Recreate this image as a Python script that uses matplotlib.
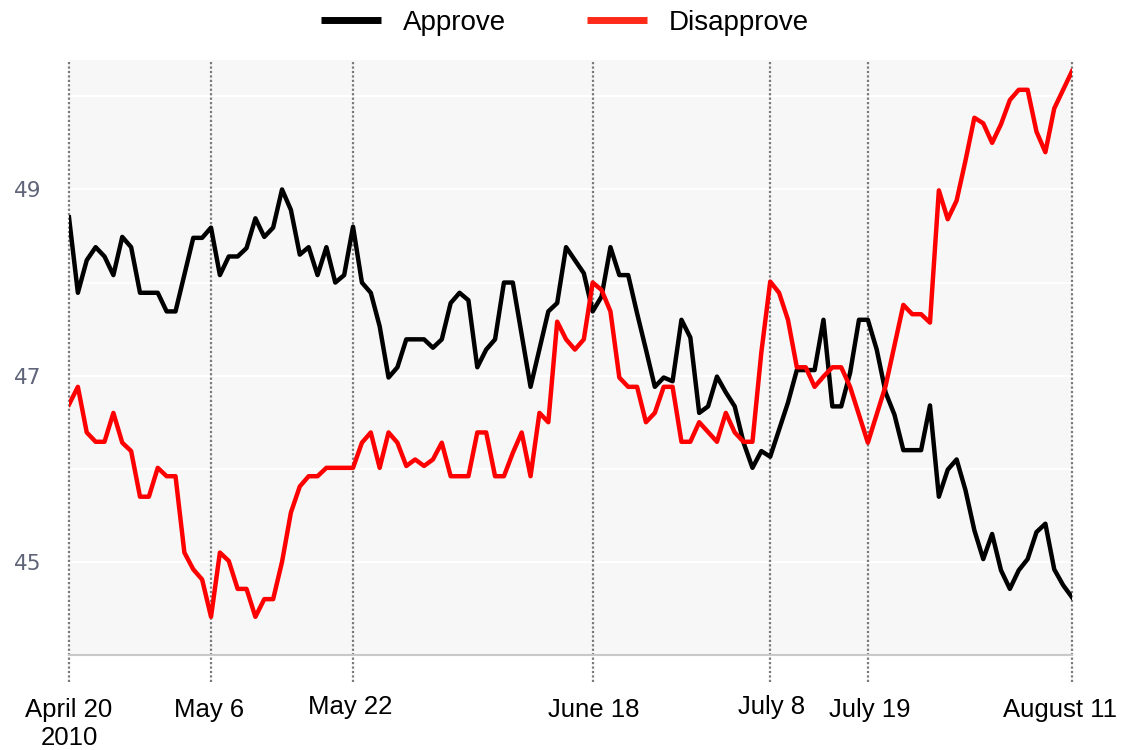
import matplotlib
matplotlib.use('Agg')
import matplotlib.pyplot as plt
from matplotlib.lines import Line2D
import pandas as pd

plt.rcParams['font.family'] = ['Liberation Sans', 'DejaVu Sans']

start = pd.Timestamp('2010-04-20')

# days after April 20 2010
approve_days = [0, 1, 2, 3, 4, 5, 6, 7, 8, 10, 11, 12, 14, 15, 16, 17, 18, 19, 20, 21,
                22, 23, 24, 25, 26, 27, 28, 29, 30, 31, 32, 33, 34, 35, 36, 37, 38, 40, 41, 42,
                43, 44, 45, 46, 47, 48, 49, 50, 52, 54, 55, 56, 58, 59, 60, 61, 62, 63, 64, 65,
                66, 67, 68, 69, 70, 71, 72, 73, 74, 75, 76, 77, 78, 79, 80, 81, 82, 84, 85, 86,
                87, 88, 89, 90, 91, 92, 93, 94, 96, 97, 98, 99, 100, 101, 102, 103, 104, 105, 106, 107,
                108, 109, 110, 111, 112, 113]
approve = [48.70, 47.89, 48.24, 48.38, 48.28, 48.08, 48.49, 48.38, 47.89, 47.89, 47.69, 47.69, 48.48, 48.48, 48.59, 48.08, 48.28, 48.28, 48.37, 48.69,
           48.49, 48.59, 49.00, 48.78, 48.30, 48.38, 48.08, 48.38, 48.00, 48.08, 48.60, 48.00, 47.89, 47.53, 46.98, 47.09, 47.39, 47.39, 47.30, 47.39,
           47.78, 47.89, 47.81, 47.09, 47.28, 47.39, 48.00, 48.00, 46.88, 47.69, 47.78, 48.38, 48.10, 47.69, 47.85, 48.38, 48.08, 48.08, 47.67, 47.28,
           46.88, 46.98, 46.94, 47.60, 47.41, 46.60, 46.67, 46.99, 46.82, 46.67, 46.28, 46.01, 46.19, 46.13, 46.42, 46.71, 47.06, 47.06, 47.60, 46.67,
           46.67, 47.03, 47.60, 47.60, 47.28, 46.82, 46.58, 46.20, 46.20, 46.68, 45.70, 45.99, 46.10, 45.77, 45.34, 45.03, 45.30, 44.91, 44.71, 44.91,
           45.03, 45.32, 45.41, 44.92, 44.75, 44.62]

disapprove_days = [0, 1, 2, 3, 4, 5, 6, 7, 8, 9, 10, 11, 12, 13, 14, 15, 16, 17, 18, 19,
                   20, 21, 22, 23, 24, 25, 26, 27, 28, 29, 32, 33, 34, 35, 36, 37, 38, 39, 40, 41,
                   42, 43, 45, 46, 47, 48, 49, 50, 51, 52, 53, 54, 55, 56, 57, 58, 59, 60, 61, 62,
                   63, 64, 65, 66, 67, 68, 69, 70, 71, 73, 74, 75, 76, 77, 78, 79, 80, 81, 82, 83,
                   84, 85, 86, 87, 88, 89, 90, 92, 94, 95, 96, 97, 98, 99, 100, 101, 102, 103, 104, 105,
                   106, 107, 108, 109, 110, 111, 112, 113]
disapprove = [46.69, 46.88, 46.39, 46.29, 46.29, 46.60, 46.28, 46.19, 45.70, 45.70, 46.01, 45.92, 45.92, 45.10, 44.92, 44.81, 44.41, 45.10, 45.01, 44.71,
              44.71, 44.41, 44.60, 44.60, 45.00, 45.53, 45.81, 45.92, 45.92, 46.01, 46.01, 46.28, 46.39, 46.01, 46.39, 46.28, 46.03, 46.10, 46.03, 46.10,
              46.28, 45.92, 45.92, 46.39, 46.39, 45.92, 45.92, 46.17, 46.39, 45.92, 46.60, 46.50, 47.58, 47.39, 47.28, 47.39, 48.00, 47.92, 47.69, 46.98,
              46.88, 46.88, 46.50, 46.60, 46.88, 46.88, 46.29, 46.29, 46.50, 46.29, 46.60, 46.39, 46.29, 46.29, 47.25, 48.01, 47.89, 47.60, 47.09, 47.09,
              46.88, 46.99, 47.09, 47.09, 46.88, 46.58, 46.28, 46.89, 47.76, 47.66, 47.66, 47.57, 48.99, 48.68, 48.88, 49.31, 49.77, 49.71, 49.50, 49.70,
              49.96, 50.07, 50.07, 49.62, 49.40, 49.87, 50.07, 50.27]

tick_dates = ['2010-04-20', '2010-05-06', '2010-05-22', '2010-06-18', '2010-07-08', '2010-07-19', '2010-08-11']
tick_labels = ['April 20\n2010', 'May 6', 'May 22', 'June 18', 'July 8', 'July 19', 'August 11']
y_labels = [45, 47, 49]

approve_x = start + pd.to_timedelta(approve_days, unit='D')
disapprove_x = start + pd.to_timedelta(disapprove_days, unit='D')
ticks = pd.to_datetime(tick_dates)

W, H = 1121, 750
fig = plt.figure(figsize=(W / 100, H / 100), dpi=100)
ax = fig.add_axes([69 / W, (H - 655) / H, (1072 - 69) / W, (655 - 60) / H])
ax.set_facecolor('#f7f7f7')

# white horizontal grid
for v in range(44, 51):
    ax.axhline(v, color='white', lw=1.5, zorder=1)

# dotted date markers, running below the axis
for t in ticks:
    ax.axvline(t, ymin=-0.045, ymax=1, color='#7a7a7a', lw=1.6,
               linestyle=(0, (1, 1)), clip_on=False, zorder=2)

ax.plot(approve_x, approve, color='black', lw=3.2, zorder=3, solid_joinstyle='round')
ax.plot(disapprove_x, disapprove, color='red', lw=3.2, zorder=3, solid_joinstyle='round')

ax.set_xlim(ticks[0], ticks[-1])
ax.set_ylim(44, 50.39)

# date labels under the axis (the last one is nudged left to stay inside)
ax.set_xticks(ticks)
ax.set_xticklabels([])
ax.tick_params(axis='x', length=0)
nudge_x = [0, -2, -3, 1, 1, 2, -12]
nudge_y = [0, 0, 3, 0, 3, 0, 0]
for t, lab, dx, dy in zip(ticks, tick_labels, nudge_x, nudge_y):
    ax.annotate(lab, xy=(t, 0), xycoords=('data', 'axes fraction'),
                xytext=(dx * 0.72, (-43 + dy) * 0.72), textcoords='offset points',
                ha='center', va='top', fontsize=18.5, linespacing=1.2,
                annotation_clip=False)

ax.set_yticks(y_labels)
ax.set_yticklabels([str(v) for v in y_labels], fontsize=15.5, color='#5f6478',
                   family='DejaVu Sans')
ax.tick_params(axis='y', length=0, pad=20)

for s in ['top', 'right', 'left']:
    ax.spines[s].set_visible(False)
ax.spines['bottom'].set_color('#c8c8c8')
ax.spines['bottom'].set_linewidth(1.5)

handles = [Line2D([], [], color='black', lw=5, solid_capstyle='butt'),
           Line2D([], [], color='#ff2a1a', lw=5, solid_capstyle='butt')]
fig.legend(handles, ['Approve', 'Disapprove'], loc='center',
           bbox_to_anchor=(565 / W, 1 - 23 / H), ncol=2, frameon=False,
           fontsize=20, handlelength=2.15, handletextpad=0.8, columnspacing=2.9)

fig.savefig('out.png', dpi=100)
